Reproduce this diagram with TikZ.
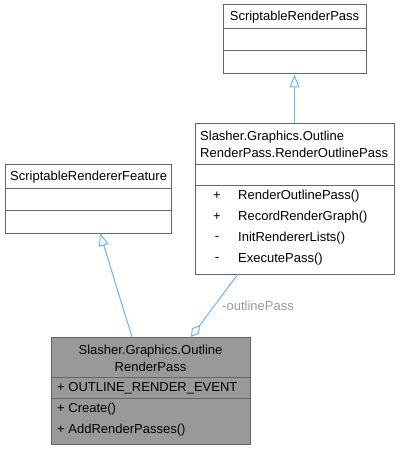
\documentclass[tikz,border=0pt]{standalone}
\usepackage{fontspec}
\setmainfont{Liberation Sans}
\usetikzlibrary{arrows.meta}
\definecolor{edgeblue}{HTML}{63B8FF}
\definecolor{boxline}{HTML}{666666}
\definecolor{boxfill}{HTML}{999999}
\definecolor{labelgray}{HTML}{9A9A9A}
\tikzset{
  classbox/.style={draw=boxline, line width=1pt, fill=white, inner sep=0pt},
  curbox/.style={classbox, fill=boxfill},
  sepline/.style={draw=boxline, line width=1pt},
  txt/.style={inner sep=0pt, font=\fontsize{13}{16}\selectfont},
  inherit/.style={draw=edgeblue, line width=1pt, -{Triangle[open, length=13pt, width=10pt]}},
  aggreg/.style={draw=edgeblue, line width=1pt, -{Diamond[open, length=15pt, width=9pt]}},
}
\begin{document}
\begin{tikzpicture}[x=1pt, y=-1pt]
                \useasboundingbox (0,0) rectangle (400,449);

                % ScriptableRenderPass
                \node[classbox, minimum width=143pt, minimum height=69pt] (srp) at (294.5,39.5) {};
                \draw[sepline] (223,29) -- (366,29);
                \draw[sepline] (223,51) -- (366,51);
                \node[txt] (srpname) at (294.5,17) {ScriptableRenderPass};

                % RenderOutlinePass
                \node[classbox, minimum width=199pt, minimum height=150pt] (rop) at (294.5,199) {};
                \draw[sepline] (195,164) -- (394,164);
                \draw[sepline] (195,185) -- (394,185);
                \node[txt, anchor=west] (ropname1) at (200,137) {Slasher.Graphics.Outline};
                \node[txt, anchor=west] (ropname2) at (200,153) {RenderPass.RenderOutlinePass};
                \node[txt] (ropv1) at (217,196) {+};
                \node[txt] (ropv2) at (217,217) {+};
                \node[txt] (ropv3) at (217,239) {-};
                \node[txt] (ropv4) at (217,260) {-};
                \node[txt, anchor=west] (ropm1) at (238,196) {RenderOutlinePass()};
                \node[txt, anchor=west] (ropm2) at (238,217) {RecordRenderGraph()};
                \node[txt, anchor=west] (ropm3) at (238,238) {InitRendererLists()};
                \node[txt, anchor=west] (ropm4) at (238,259) {ExecutePass()};

                % ScriptableRendererFeature
                \node[classbox, minimum width=166pt, minimum height=69pt] (srf) at (88,198.5) {};
                \draw[sepline] (5,188) -- (171,188);
                \draw[sepline] (5,210) -- (171,210);
                \node[txt, anchor=west] (srfname) at (10,177) {ScriptableRendererFeature};

                % OutlineRenderPass
                \node[curbox, minimum width=199pt, minimum height=107pt] (orp) at (150.5,390.5) {};
                \draw[sepline] (51,377) -- (250,377);
                \draw[sepline] (51,398) -- (250,398);
                \node[txt] (orpname1) at (150.5,351) {Slasher.Graphics.Outline};
                \node[txt] (orpname2) at (150.5,367) {RenderPass};
                \node[txt, anchor=west] (orpa1) at (57,388) {+ OUTLINE\_RENDER\_EVENT};
                \node[txt, anchor=west] (orpm1) at (57,409) {+ Create()};
                \node[txt, anchor=west] (orpm2) at (57,430) {+ AddRenderPasses()};

                % connectors
                \coordinate (orpin) at (132,337);
                \coordinate (srfout) at (100,233);
                \coordinate (ropout) at (238,274);
                \coordinate (orpagg) at (191,337);
                \draw[inherit] (rop.north) -- (srp.south);
                \draw[inherit] (orpin) -- (srfout);
                \draw[aggreg] (ropout) -- (orpagg);
                \node[txt, text=labelgray] (aggname) at (258,306) {-outlinePass};
            \end{tikzpicture}
\end{document}
